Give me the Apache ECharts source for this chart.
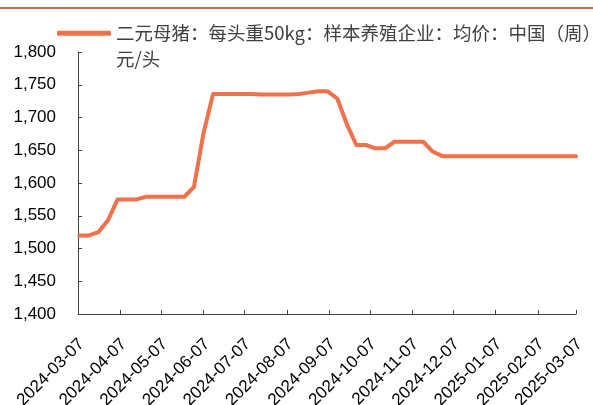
<!DOCTYPE html>
<html>
<head>
<meta charset="utf-8">
<script src="https://cdn.jsdelivr.net/npm/echarts@6/dist/echarts.min.js"></script>
<style>html,body{margin:0;padding:0;background:#fff;}#c{width:593px;height:405px;}</style>
</head>
<body>
<div id="c"></div>
<script>
// Weekly observation dates (Fridays)
const dates = [
  '2024-03-08','2024-03-15','2024-03-22','2024-03-29',
  '2024-04-05','2024-04-12','2024-04-19','2024-04-26',
  '2024-05-03','2024-05-10','2024-05-17','2024-05-24','2024-05-31',
  '2024-06-07','2024-06-14','2024-06-21','2024-06-28',
  '2024-07-05','2024-07-12','2024-07-19','2024-07-26',
  '2024-08-02','2024-08-09','2024-08-16','2024-08-23','2024-08-30',
  '2024-09-06','2024-09-13','2024-09-20','2024-09-27',
  '2024-10-04','2024-10-11','2024-10-18','2024-10-25',
  '2024-11-01','2024-11-08','2024-11-15','2024-11-22','2024-11-29',
  '2024-12-06','2024-12-13','2024-12-20','2024-12-27',
  '2025-01-03','2025-01-10','2025-01-17','2025-01-24','2025-01-31',
  '2025-02-07','2025-02-14','2025-02-21','2025-02-28','2025-03-07'
];
// 二元母猪 average price, 元/头
const prices = [
  1520,1520,1525,1543,
  1575,1575,1575,1579,
  1579,1579,1579,1579,1594,
  1676,1736,1736,1736,
  1736,1736,1735,1735,
  1735,1735,1736,1738,1740,
  1740,1729,1690,1658,
  1658,1653,1653,1663,
  1663,1663,1663,1648,1641,
  1641,1641,1641,1641,
  1641,1641,1641,1641,1641,
  1641,1641,1641,1641,1641
];
// x-axis tick labels
const tickLabels = [
  '2024-03-07','2024-04-07','2024-05-07','2024-06-07','2024-07-07','2024-08-07',
  '2024-09-07','2024-10-07','2024-11-07','2024-12-07','2025-01-07','2025-02-07','2025-03-07'
];
const seriesName = '二元母猪：每头重50kg：样本养殖企业：均价：中国（周）元/头';
const legendLine1 = '二元母猪：每头重50kg：样本养殖企业：均价：中国（周）';
const legendLine2 = '元/头';
const yMin = 1400, yMax = 1800, yStep = 50;

const DAY = 86400000;
function ts(s) { const p = s.split('-').map(Number); return Date.UTC(p[0], p[1] - 1, p[2]); }
const t0 = ts(tickLabels[0]);
function dayNum(s) { return Math.round((ts(s) - t0) / DAY); }
const tickDays = tickLabels.map(dayNum);
const labelByDay = {};
tickLabels.forEach((s, i) => { labelByDay[tickDays[i]] = s; });
const seriesData = dates.map((d, i) => [dayNum(d), prices[i]]);

const chart = echarts.init(document.getElementById('c'), null, { renderer: 'canvas' });
const axisColor = '#404040';
chart.setOption({
  animation: false,
  backgroundColor: '#ffffff',
  grid: { left: 78, right: 17, top: 52, bottom: 91, containLabel: false, outerBoundsMode: 'none' },
  legend: {
    left: 57, top: 24, padding: 0,
    icon: 'roundRect',
    itemWidth: 54, itemHeight: 5,
    formatter: () => legendLine1,
    textStyle: { fontFamily: '"Noto Sans CJK SC", "Liberation Sans", sans-serif', fontSize: 18.5, color: '#404040' },
    data: [seriesName]
  },
  graphic: [
    { type: 'line', shape: { x1: 0, y1: 8, x2: 593, y2: 8 }, style: { stroke: '#B23A15', lineWidth: 1.5 } },
    { type: 'text', left: 116, top: 50, style: { text: legendLine2, fontFamily: '"Noto Sans CJK SC", sans-serif', fontSize: 18.5, fill: '#404040' } }
  ],
  xAxis: {
    type: 'value',
    min: tickDays[0], max: tickDays[tickDays.length - 1],
    splitLine: { show: false },
    axisLine: { show: true, lineStyle: { color: axisColor, width: 1 } },
    axisTick: { show: true, inside: true, length: 4, customValues: tickDays, lineStyle: { color: axisColor } },
    axisLabel: {
      customValues: tickDays,
      rotate: 45, margin: 24,
      formatter: v => '{d|' + (labelByDay[Math.round(v)] || '') + '}',
      rich: {
        d: { fontFamily: '"Liberation Sans", Arial, sans-serif', fontSize: 17, color: '#000', padding: [10, 0, 0, 0] }
      },
      fontFamily: '"Liberation Sans", Arial, sans-serif', fontSize: 17, color: '#000'
    }
  },
  yAxis: {
    type: 'value',
    min: yMin, max: yMax, interval: yStep,
    splitLine: { show: false },
    axisLine: { show: true, lineStyle: { color: axisColor, width: 1 } },
    axisTick: { show: true, inside: true, length: 4, lineStyle: { color: axisColor } },
    axisLabel: {
      margin: 22,
      formatter: v => v.toLocaleString('en-US'),
      fontFamily: '"Liberation Sans", Arial, sans-serif', fontSize: 17, color: '#000'
    }
  },
  series: [{
    name: seriesName,
    type: 'line',
    data: seriesData,
    showSymbol: false,
    symbol: 'none',
    smooth: false,
    lineStyle: { color: '#F0714A', width: 4, cap: 'round', join: 'round' },
    itemStyle: { color: '#F0714A' }
  }]
});
</script>
</body>
</html>
